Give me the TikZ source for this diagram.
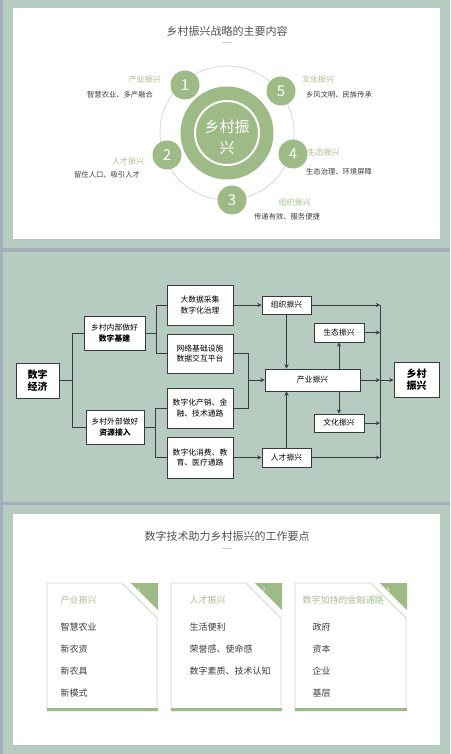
\documentclass[tikz,border=0pt]{standalone}
\usepackage{fontspec}
\setmainfont{Noto Sans CJK SC}
\usetikzlibrary{arrows}

\definecolor{Sage}{HTML}{B6CCC1}
\definecolor{Edge}{HTML}{A4AEBA}
\definecolor{Leaf}{HTML}{9EBA86}
\definecolor{LeafText}{HTML}{A6C090}
\definecolor{Ink}{HTML}{3A3A3A}
\definecolor{Heading}{HTML}{505050}
\definecolor{Ring}{HTML}{CDCDCD}
\definecolor{Frame}{HTML}{CDD8C5}

\begin{document}
\begin{tikzpicture}[
      x = 1pt, y = -1pt,
      Title/.style = {font = \fontsize{11}{13}\selectfont, text = Heading},
      Tag/.style = {font = \fontsize{8}{10}\selectfont, text = LeafText},
      Note/.style = {font = \fontsize{7.3}{9}\selectfont, text = Ink},
      Badge/.style = {circle, fill = Leaf, minimum size = 29pt, inner sep = 0pt,
                      text = white, font = \fontsize{15}{15}\selectfont},
      Box/.style = {draw = Ink, fill = white, line width = 0.9pt, align = center,
                    inner sep = 0pt, font = \fontsize{7.8}{10.5}\selectfont},
      BigBox/.style = {Box, font = \fontsize{10}{12}\selectfont\bfseries},
      Line/.style = {draw = Ink, line width = 0.9pt, -stealth},
      Link/.style = {draw = Ink, line width = 0.9pt},
      Card/.style = {draw = Frame, line width = 0.8pt, fill = white},
      CardHead/.style = {anchor = west, font = \fontsize{9}{11}\selectfont, text = LeafText},
      Item/.style = {anchor = west, font = \fontsize{9}{11}\selectfont, text = Ink},
      Pin/.style = {font = \fontsize{5}{5}\selectfont, text = white}
    ]
    % panels
    \fill[Sage] (0,0) rectangle (450,754);
    \fill[Edge] (0,0) rectangle (3,754);
    \fill[Edge] (0,248) rectangle (450,252);
    \fill[Edge] (0,502) rectangle (450,505);
    \fill[white] (13,8) rectangle (440,239);
    \fill[white] (13,514) rectangle (440,745);

    % top: the five parts
    \node at (227,31) [Title](TopTitle){乡村振兴战略的主要内容};
    \draw[Ring, line width = 0.8pt] (222,42) -- (232,42);

    \draw[Ring, line width = 0.6pt] (227,133) circle [radius = 67pt];
    \node at (227,133) [circle, fill = Leaf, minimum size = 93pt](Core){};
    \draw[white, line width = 2pt] (Core.center) circle [radius = 32pt];
    \node at (227,137) [align = center, text = white,
      font = \fontsize{15}{21}\selectfont](CoreText){乡村振\\兴};

    \node at (185,85) [Badge](N1){1};
    \node at (167,155) [Badge](N2){2};
    \node at (232,200) [Badge](N3){3};
    \node at (293,154) [Badge](N4){4};
    \node at (281,91) [Badge](N5){5};

    \node at (144.5,79) [Tag](T1){产业振兴};
    \node at (120,95) [Note](D1){智慧农业、多产融合};
    \node at (128,161) [Tag](T2){人才振兴};
    \node at (107,175) [Note](D2){留住人口、吸引人才};
    \node at (294.5,202) [Tag](T3){组织振兴};
    \node at (287,217) [Note](D3){传递有效、服务便捷};
    \node at (323.5,152) [Tag](T4){生态振兴};
    \node at (339,172) [Note](D4){生态治理、环境屏障};
    \node at (318,79) [Tag](T5){文化振兴};
    \node at (339,95) [Note](D5){乡风文明、民族传承};

    % middle: flow chart
    \node at (37.5,380.5) [BigBox, minimum width = 43pt, minimum height = 35pt](Econ){数字\\经济};
    \node at (114.5,333) [Box, minimum width = 61pt, minimum height = 34pt](Inner){乡村内部做好\\\textbf{数字基建}};
    \node at (115,427) [Box, minimum width = 58pt, minimum height = 34pt](Outer){乡村外部做好\\\textbf{资源接入}};
    \node at (200,305) [Box, minimum width = 66pt, minimum height = 40pt](Gather){大数据采集\\数字化治理};
    \node at (200,353.5) [Box, minimum width = 66pt, minimum height = 39pt](Network){网络基础设施\\数据交互平台};
    \node at (200,408) [Box, minimum width = 66pt, minimum height = 40pt](Market){数字化产销、金\\融、技术通路};
    \node at (200,457.5) [Box, minimum width = 66pt, minimum height = 41pt](Service){数字化消费、教\\育、医疗通路};
    \node at (286.5,305) [Box, minimum width = 49pt, minimum height = 18pt](Org){组织振兴};
    \node at (339,332.5) [Box, minimum width = 50pt, minimum height = 19pt](Eco){生态振兴};
    \node at (312.5,380) [Box, minimum width = 95pt, minimum height = 22pt](Ind){产业振兴};
    \node at (339,423) [Box, minimum width = 50pt, minimum height = 18pt](Cul){文化振兴};
    \node at (286.5,457.5) [Box, minimum width = 49pt, minimum height = 19pt](Tal){人才振兴};
    \node at (416.5,380) [BigBox, minimum width = 45pt, minimum height = 35pt](Goal){乡村\\振兴};

    \coordinate (Mid) at (248,380);
    \coordinate (Bus) at (380,380);

    \path [Link] (Econ.east) -- ++(12.5,0) |- (Inner.west);
    \path [Link] (Econ.east) -- ++(12.5,0) |- (Outer.west);
    \path [Link] (Inner.east) -- ++(11,0) |- (Gather.west);
    \path [Link] (Inner.east) -- ++(11,0) |- (Network.west);
    \path [Link] (Outer.east) -- ++(11,0) |- (Market.west);
    \path [Link] (Outer.east) -- ++(11,0) |- (Service.west);

    \path [Line] (Gather) -- (Org);
    \path [Link] (Network.east) -| (Mid);
    \path [Link] (Market.east) -| (Mid);
    \path [Line] (Mid) -- (Ind.west);
    \path [Line] (Service) -- (Tal);

    \path [Line] (Org.south) -- (Org.south |- Ind.north);
    \path [Line] (Tal.north) -- (Tal.north |- Ind.south);
    \path [Line] (Ind.north -| Eco.south) -- (Eco.south);
    \path [Line] (Ind.south -| Cul.north) -- (Cul.north);

    \path [Link] (Org.east -| Bus) -- (Tal.east -| Bus);
    \path [Line] (Org.east) -- (Org.east -| Bus);
    \path [Line] (Eco.east) -- (Eco.east -| Bus);
    \path [Line] (Ind.east) -- (Bus);
    \path [Line] (Cul.east) -- (Cul.east -| Bus);
    \path [Line] (Tal.east) -- (Tal.east -| Bus);
    \path [Line] (Bus) -- (Goal.west);

    % bottom: three cards
    \node at (227,536) [Title](LowTitle){数字技术助力乡村振兴的工作要点};
    \draw[Ring, line width = 0.8pt] (222,548) -- (232,548);

    \draw[Card] (47,583) -- (122,583) -- (157,618) -- (157,711) -- (47,711) -- cycle;
    \fill[Leaf] (131,583) -- (158,583) -- (158,610) -- cycle;
    \fill[Leaf] (47,708) rectangle (158,711);
    \node at (139,590) [Pin](P1){1};
    \node at (57,600) [CardHead](H1){产业振兴};
    \node at (57,627) [Item](A1){智慧农业};
    \node at (57,649) [Item](A2){新农资};
    \node at (57,671) [Item](A3){新农具};
    \node at (57,693) [Item](A4){新模式};

    \draw[Card] (171,583) -- (246,583) -- (281,618) -- (281,711) -- (171,711) -- cycle;
    \fill[Leaf] (255,583) -- (282,583) -- (282,610) -- cycle;
    \fill[Leaf] (171,708) rectangle (282,711);
    \node at (264,590) [Pin](P2){2};
    \node at (186,600) [CardHead](H2){人才振兴};
    \node at (186,627) [Item](B1){生活便利};
    \node at (186,649) [Item](B2){荣誉感、使命感};
    \node at (186,671) [Item](B3){数字素质、技术认知};

    \draw[Card] (295,583) -- (371,583) -- (406,618) -- (406,711) -- (295,711) -- cycle;
    \fill[Leaf] (380,583) -- (407,583) -- (407,610) -- cycle;
    \fill[Leaf] (295,708) rectangle (407,711);
    \node at (388,590) [Pin](P3){3};
    \node at (299,600) [CardHead](H3){数字加持的金融通路};
    \node at (309,627) [Item](C1){政府};
    \node at (309,649) [Item](C2){资本};
    \node at (309,671) [Item](C3){企业};
    \node at (309,693) [Item](C4){基层};
  \end{tikzpicture}
\end{document}
